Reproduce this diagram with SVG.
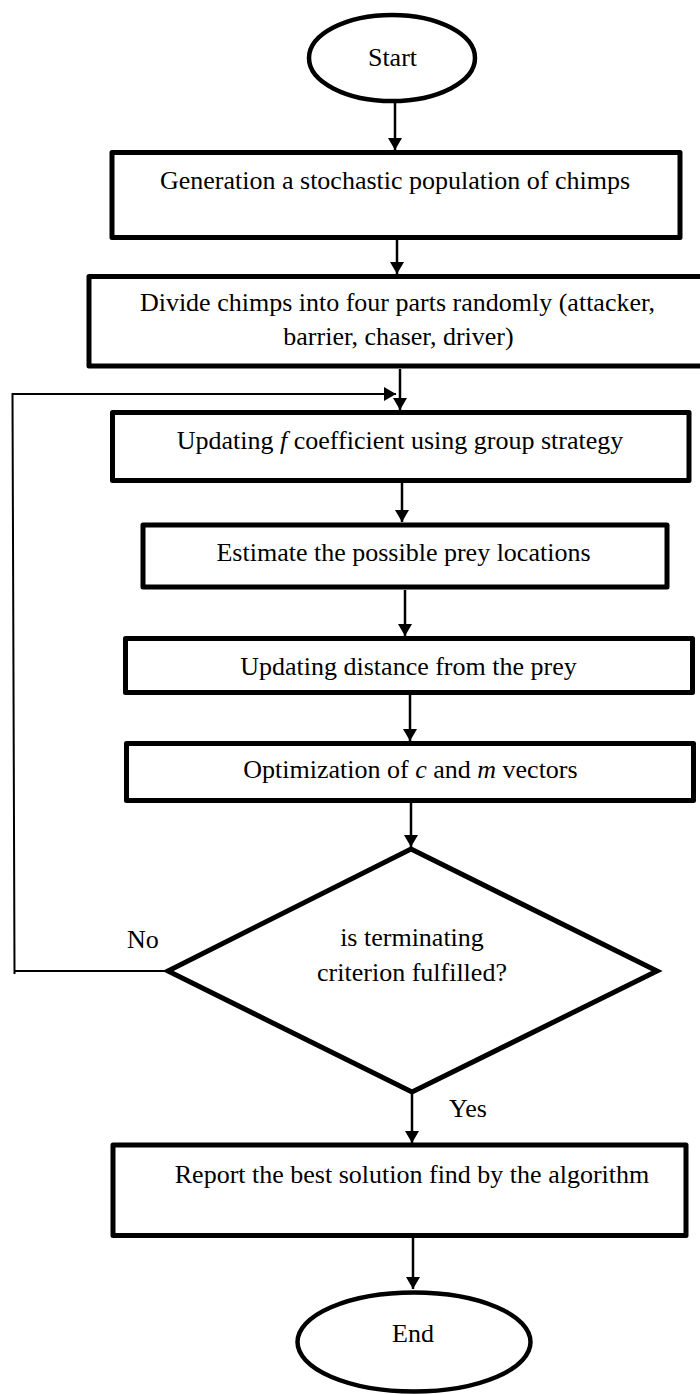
<svg xmlns="http://www.w3.org/2000/svg" width="700" height="1394" viewBox="0 0 700 1394">
  <style>
    .node { fill: #ffffff; stroke: #000000; stroke-width: 5; stroke-linejoin: round; }
    .term { fill: #ffffff; stroke: #000000; stroke-width: 4.5; }
    .decision { fill: #ffffff; stroke: #000000; stroke-width: 5; stroke-linejoin: miter; }
    .label { font-family: "Liberation Serif", "Times New Roman", serif; font-size: 26px; fill: #000000; text-anchor: middle; }
    .tag { font-family: "Liberation Serif", "Times New Roman", serif; font-size: 26px; fill: #000000; }
    .edge { fill: none; stroke: #000000; stroke-width: 2.5; }
    .loop { fill: none; stroke: #000000; stroke-width: 2; }
    .var { font-style: italic; }
  </style>
  <defs>
    <marker id="arrow" markerUnits="userSpaceOnUse" markerWidth="13" markerHeight="15" refX="12" refY="7" orient="auto">
      <path d="M0,0 L12,7 L0,14 Z" fill="#000000"/>
    </marker>
  </defs>

  <rect width="700" height="1394" fill="#ffffff"/>

  <!-- connectors -->
  <g id="connectors">
    <line class="edge" x1="395" y1="103" x2="395" y2="150" marker-end="url(#arrow)"/>
    <line class="edge" x1="397" y1="240" x2="397" y2="274" marker-end="url(#arrow)"/>
    <line class="edge" x1="400" y1="369" x2="400" y2="410" marker-end="url(#arrow)"/>
    <line class="edge" x1="402" y1="483" x2="402" y2="522" marker-end="url(#arrow)"/>
    <line class="edge" x1="405" y1="590" x2="405" y2="636" marker-end="url(#arrow)"/>
    <line class="edge" x1="410" y1="695" x2="410" y2="741" marker-end="url(#arrow)"/>
    <line class="edge" x1="411" y1="803" x2="411" y2="847" marker-end="url(#arrow)"/>
    <line class="edge" x1="412" y1="1094" x2="412" y2="1143" marker-end="url(#arrow)"/>
    <line class="edge" x1="413" y1="1238" x2="413" y2="1289" marker-end="url(#arrow)"/>
    <!-- "No" branch loops back above the f-coefficient step -->
    <polyline class="loop" points="168,971 14.5,971 14.5,974 14.5,971 12.5,394 396,394" marker-end="url(#arrow)"/>
    <text class="tag" x="127" y="948">No</text>
    <text class="tag" x="449" y="1117">Yes</text>
  </g>

  <g id="start">
    <ellipse class="term" cx="392" cy="58" rx="83" ry="43"/>
    <text class="label" x="392.5" y="65.5">Start</text>
  </g>

  <g id="generate">
    <rect class="node" x="112" y="152.5" width="568" height="85"/>
    <text class="label" x="395" y="189">Generation a stochastic population of chimps</text>
  </g>

  <g id="divide">
    <rect class="node" x="89" y="276.5" width="615" height="89.5"/>
    <text class="label" x="397.5" y="311">Divide chimps into four parts randomly (attacker,</text>
    <text class="label" x="398.5" y="345">barrier, chaser, driver)</text>
  </g>

  <g id="update-f">
    <rect class="node" x="112.5" y="412.5" width="576.5" height="68"/>
    <text class="label" x="400" y="449">Updating <tspan class="var">f</tspan> coefficient using group strategy</text>
  </g>

  <g id="estimate">
    <rect class="node" x="143" y="525" width="524" height="62"/>
    <text class="label" x="403.5" y="561">Estimate the possible prey locations</text>
  </g>

  <g id="distance">
    <rect class="node" x="125.5" y="638.5" width="567" height="54"/>
    <text class="label" x="408.5" y="675">Updating distance from the prey</text>
  </g>

  <g id="optimize">
    <rect class="node" x="126.5" y="743.5" width="567" height="57"/>
    <text class="label" x="410.5" y="778">Optimization of <tspan class="var">c</tspan> and <tspan class="var">m</tspan> vectors</text>
  </g>

  <g id="check">
    <polygon class="decision" points="411,849 657,971 412,1092 168,971"/>
    <text class="label" x="412" y="946">is terminating</text>
    <text class="label" x="412" y="981">criterion fulfilled?</text>
  </g>

  <g id="report">
    <rect class="node" x="113" y="1145" width="573" height="90.5"/>
    <text class="label" x="412" y="1183">Report the best solution find by the algorithm</text>
  </g>

  <g id="end">
    <ellipse class="term" cx="414" cy="1342" rx="116.5" ry="49.5"/>
    <text class="label" x="413" y="1342">End</text>
  </g>
</svg>
